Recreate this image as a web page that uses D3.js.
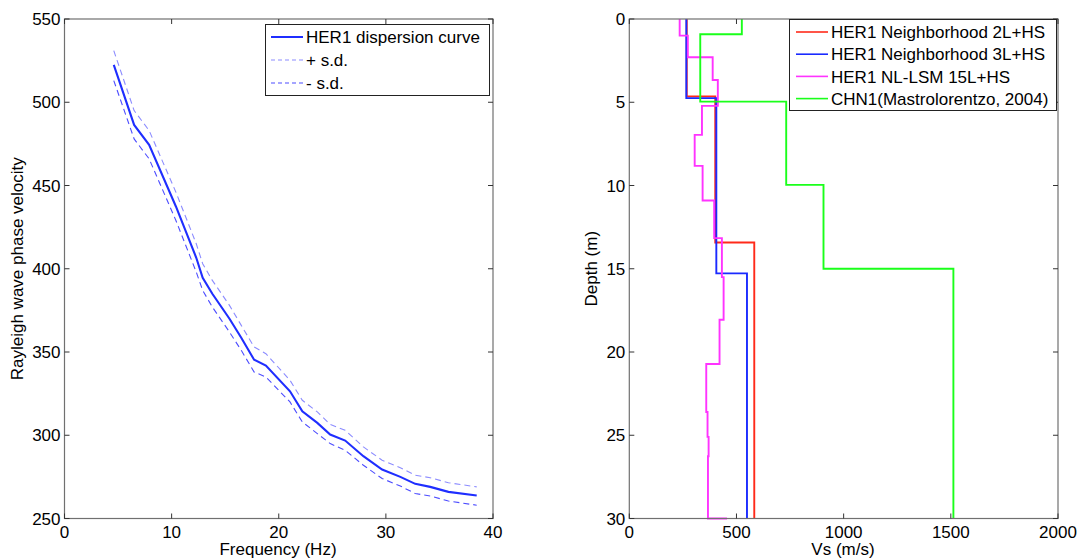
<!DOCTYPE html>
<html>
<head>
<meta charset="utf-8">
<script src="https://cdn.jsdelivr.net/npm/d3@7.9.0/dist/d3.min.js"></script>
<style>
  body { margin: 0; background: #fff; }
  svg { display: block; font-family: "Liberation Sans", Arial, sans-serif; }
</style>
</head>
<body>
<svg id="chart" width="1079" height="560"></svg>
<script>
// left panel: dispersion curve (frequency Hz, velocity m/s)
const freq = [4.6, 6.5, 7.9, 10.4, 12.3, 12.9, 13.8, 15.4, 16.5, 17.7, 18.8, 21.05, 22.2, 23.6, 24.8, 26.2, 27.9, 29.65, 31.35, 32.74, 34.14, 35.84, 38.48];
const velocity = [522.4, 486.4, 474.4, 437.4, 406.6, 394.6, 385, 370, 358.6, 345.4, 341.8, 326.4, 314.4, 307.4, 300.4, 296.8, 287.4, 279.4, 275, 270.8, 269, 266, 263.8];
const velPlus = [531, 495, 483, 446, 415, 403, 393, 378, 366, 353, 349, 333, 321, 314, 306.5, 303, 293, 285, 280.5, 276, 274.5, 271.5, 269];
const velMinus = [513, 478, 466, 429, 398, 387, 377, 362, 351, 338, 335, 320, 308, 301, 295, 291, 282, 274, 269.5, 265, 263.5, 260.5, 258];
const freqTicks = [0, 10, 20, 30, 40];
const velTicks = [250, 300, 350, 400, 450, 500, 550];

// right panel: Vs profiles (layer tops in m, Vs in m/s)
const red2L = { tops: [0, 4.65, 13.42], vs: [268, 401, 583] };
const blue3L = { tops: [0, 4.75, 15.28], vs: [266, 406, 549] };
const pink15L = {
  tops: [0, 1.0, 2.3, 3.66, 5.22, 6.96, 8.82, 10.9, 13.16, 15.5, 18.06, 20.72, 23.6, 25.1, 26.26],
  vs: [235, 273, 389, 413, 339, 305, 342, 396, 432, 440, 421, 359, 365, 370, 367],
  hs: 456
};
const chn1 = { tops: [0, 0.92, 4.96, 9.96, 15], vs: [525, 331, 732, 906, 1512] };
const vsTicks = [0, 500, 1000, 1500, 2000];
const depthTicks = [0, 5, 10, 15, 20, 25, 30];
const maxDepth = 30;

const svg = d3.select('#chart');
const font = 17;

const plotTop = 19, plotBottom = 518.5;

// axes box with inward ticks on all four sides, matlab style
function drawAxes(g, x, y, xt, yt) {
  const [x0, x1] = x.range();
  const [ya, yb] = y.range();
  const y0 = Math.min(ya, yb), y1 = Math.max(ya, yb);
  const tl = 5;

  g.append('rect')
    .attr('x', x0).attr('y', y0)
    .attr('width', x1 - x0).attr('height', y1 - y0)
    .attr('fill', 'none').attr('stroke', '#707070').attr('stroke-width', 1.2);

  xt.forEach(t => {
    const px = x(t);
    g.append('line').attr('x1', px).attr('x2', px).attr('y1', y1).attr('y2', y1 - tl)
      .attr('stroke', '#333');
    g.append('line').attr('x1', px).attr('x2', px).attr('y1', y0).attr('y2', y0 + tl)
      .attr('stroke', '#333');
    g.append('text').attr('x', px).attr('y', 538)
      .attr('text-anchor', 'middle').attr('font-size', font).text(t);
  });

  yt.forEach(t => {
    const py = y(t);
    g.append('line').attr('x1', x0).attr('x2', x0 + tl).attr('y1', py).attr('y2', py)
      .attr('stroke', '#333');
    g.append('line').attr('x1', x1).attr('x2', x1 - tl).attr('y1', py).attr('y2', py)
      .attr('stroke', '#333');
    g.append('text').attr('x', x0 - 4).attr('y', py).attr('dy', '0.36em')
      .attr('text-anchor', 'end').attr('font-size', font).text(t);
  });
}

// ---------- left panel ----------
const xF = d3.scaleLinear().domain([0, 40]).range([64.5, 493]);
const yV = d3.scaleLinear().domain([250, 550]).range([plotBottom, plotTop]);
const left = svg.append('g');

const curveLine = vals => d3.line()
  .x((d, i) => xF(freq[i]))
  .y(d => yV(d))(vals);

left.append('path').attr('d', curveLine(velPlus))
  .attr('fill', 'none').attr('stroke', '#8c8cff').attr('stroke-width', 1.1)
  .attr('stroke-dasharray', '6,4');
left.append('path').attr('d', curveLine(velMinus))
  .attr('fill', 'none').attr('stroke', '#4d4dff').attr('stroke-width', 1.1)
  .attr('stroke-dasharray', '6,4');
left.append('path').attr('d', curveLine(velocity))
  .attr('fill', 'none').attr('stroke', '#1f2eff').attr('stroke-width', 2.1);

drawAxes(left, xF, yV, freqTicks, velTicks);

left.append('text').attr('x', 278).attr('y', 555)
  .attr('text-anchor', 'middle').attr('font-size', font).text('Frequency (Hz)');
left.append('text')
  .attr('transform', `translate(23, ${(plotTop + plotBottom) / 2}) rotate(-90)`)
  .attr('text-anchor', 'middle').attr('font-size', font).text('Rayleigh wave phase velocity');

// legend left
const legL = left.append('g');
legL.append('rect').attr('x', 265.5).attr('y', 24.5).attr('width', 224).attr('height', 71)
  .attr('fill', '#fff').attr('stroke', '#222');
const legLItems = [
  { label: 'HER1 dispersion curve', color: '#1f2eff', dash: null, w: 2 },
  { label: '+ s.d.', color: '#8c8cff', dash: '4,3', w: 1.1 },
  { label: '- s.d.', color: '#4d4dff', dash: '4,3', w: 1.1 }
];
legLItems.forEach((d, i) => {
  const yy = 37 + i * 23;
  legL.append('line').attr('x1', 271).attr('x2', 303).attr('y1', yy).attr('y2', yy)
    .attr('stroke', d.color).attr('stroke-width', d.w)
    .attr('stroke-dasharray', d.dash);
  legL.append('text').attr('x', 306).attr('y', yy).attr('dy', '0.36em')
    .attr('font-size', font).text(d.label);
});

// ---------- right panel ----------
const xS = d3.scaleLinear().domain([0, 2000]).range([629.3, 1058]);
const yD = d3.scaleLinear().domain([0, maxDepth]).range([plotTop, plotBottom]);
const right = svg.append('g');

function profilePoints(p) {
  const pts = [];
  p.tops.forEach((t, i) => {
    const b = i < p.tops.length - 1 ? p.tops[i + 1] : maxDepth;
    pts.push([p.vs[i], t], [p.vs[i], b]);
  });
  if (p.hs) pts.push([p.hs, maxDepth]);
  return pts;
}

const profLine = d3.line().x(d => xS(d[0])).y(d => yD(d[1]));

const profiles = [
  { p: red2L, color: '#ff2a1a', label: 'HER1 Neighborhood 2L+HS' },
  { p: blue3L, color: '#1a2aff', label: 'HER1 Neighborhood 3L+HS' },
  { p: pink15L, color: '#ff33ff', label: 'HER1 NL-LSM 15L+HS' },
  { p: chn1, color: '#1aff1a', label: 'CHN1(Mastrolorentzo, 2004)' }
];

profiles.forEach(d => {
  right.append('path').attr('d', profLine(profilePoints(d.p)))
    .attr('fill', 'none').attr('stroke', d.color).attr('stroke-width', 1.9);
});

drawAxes(right, xS, yD, vsTicks, depthTicks);

right.append('text').attr('x', 843).attr('y', 555)
  .attr('text-anchor', 'middle').attr('font-size', font).text('Vs (m/s)');
right.append('text')
  .attr('transform', `translate(597, ${(plotTop + plotBottom) / 2}) rotate(-90)`)
  .attr('text-anchor', 'middle').attr('font-size', font).text('Depth (m)');

// legend right
const legR = right.append('g');
legR.append('rect').attr('x', 789.5).attr('y', 19.5).attr('width', 267).attr('height', 91)
  .attr('fill', '#fff').attr('stroke', '#222');
profiles.forEach((d, i) => {
  const yy = 32 + i * 22.2;
  legR.append('line').attr('x1', 796).attr('x2', 828).attr('y1', yy).attr('y2', yy)
    .attr('stroke', d.color).attr('stroke-width', 1.6);
  legR.append('text').attr('x', 831).attr('y', yy).attr('dy', '0.36em')
    .attr('font-size', font).text(d.label);
});
</script>
</body>
</html>
